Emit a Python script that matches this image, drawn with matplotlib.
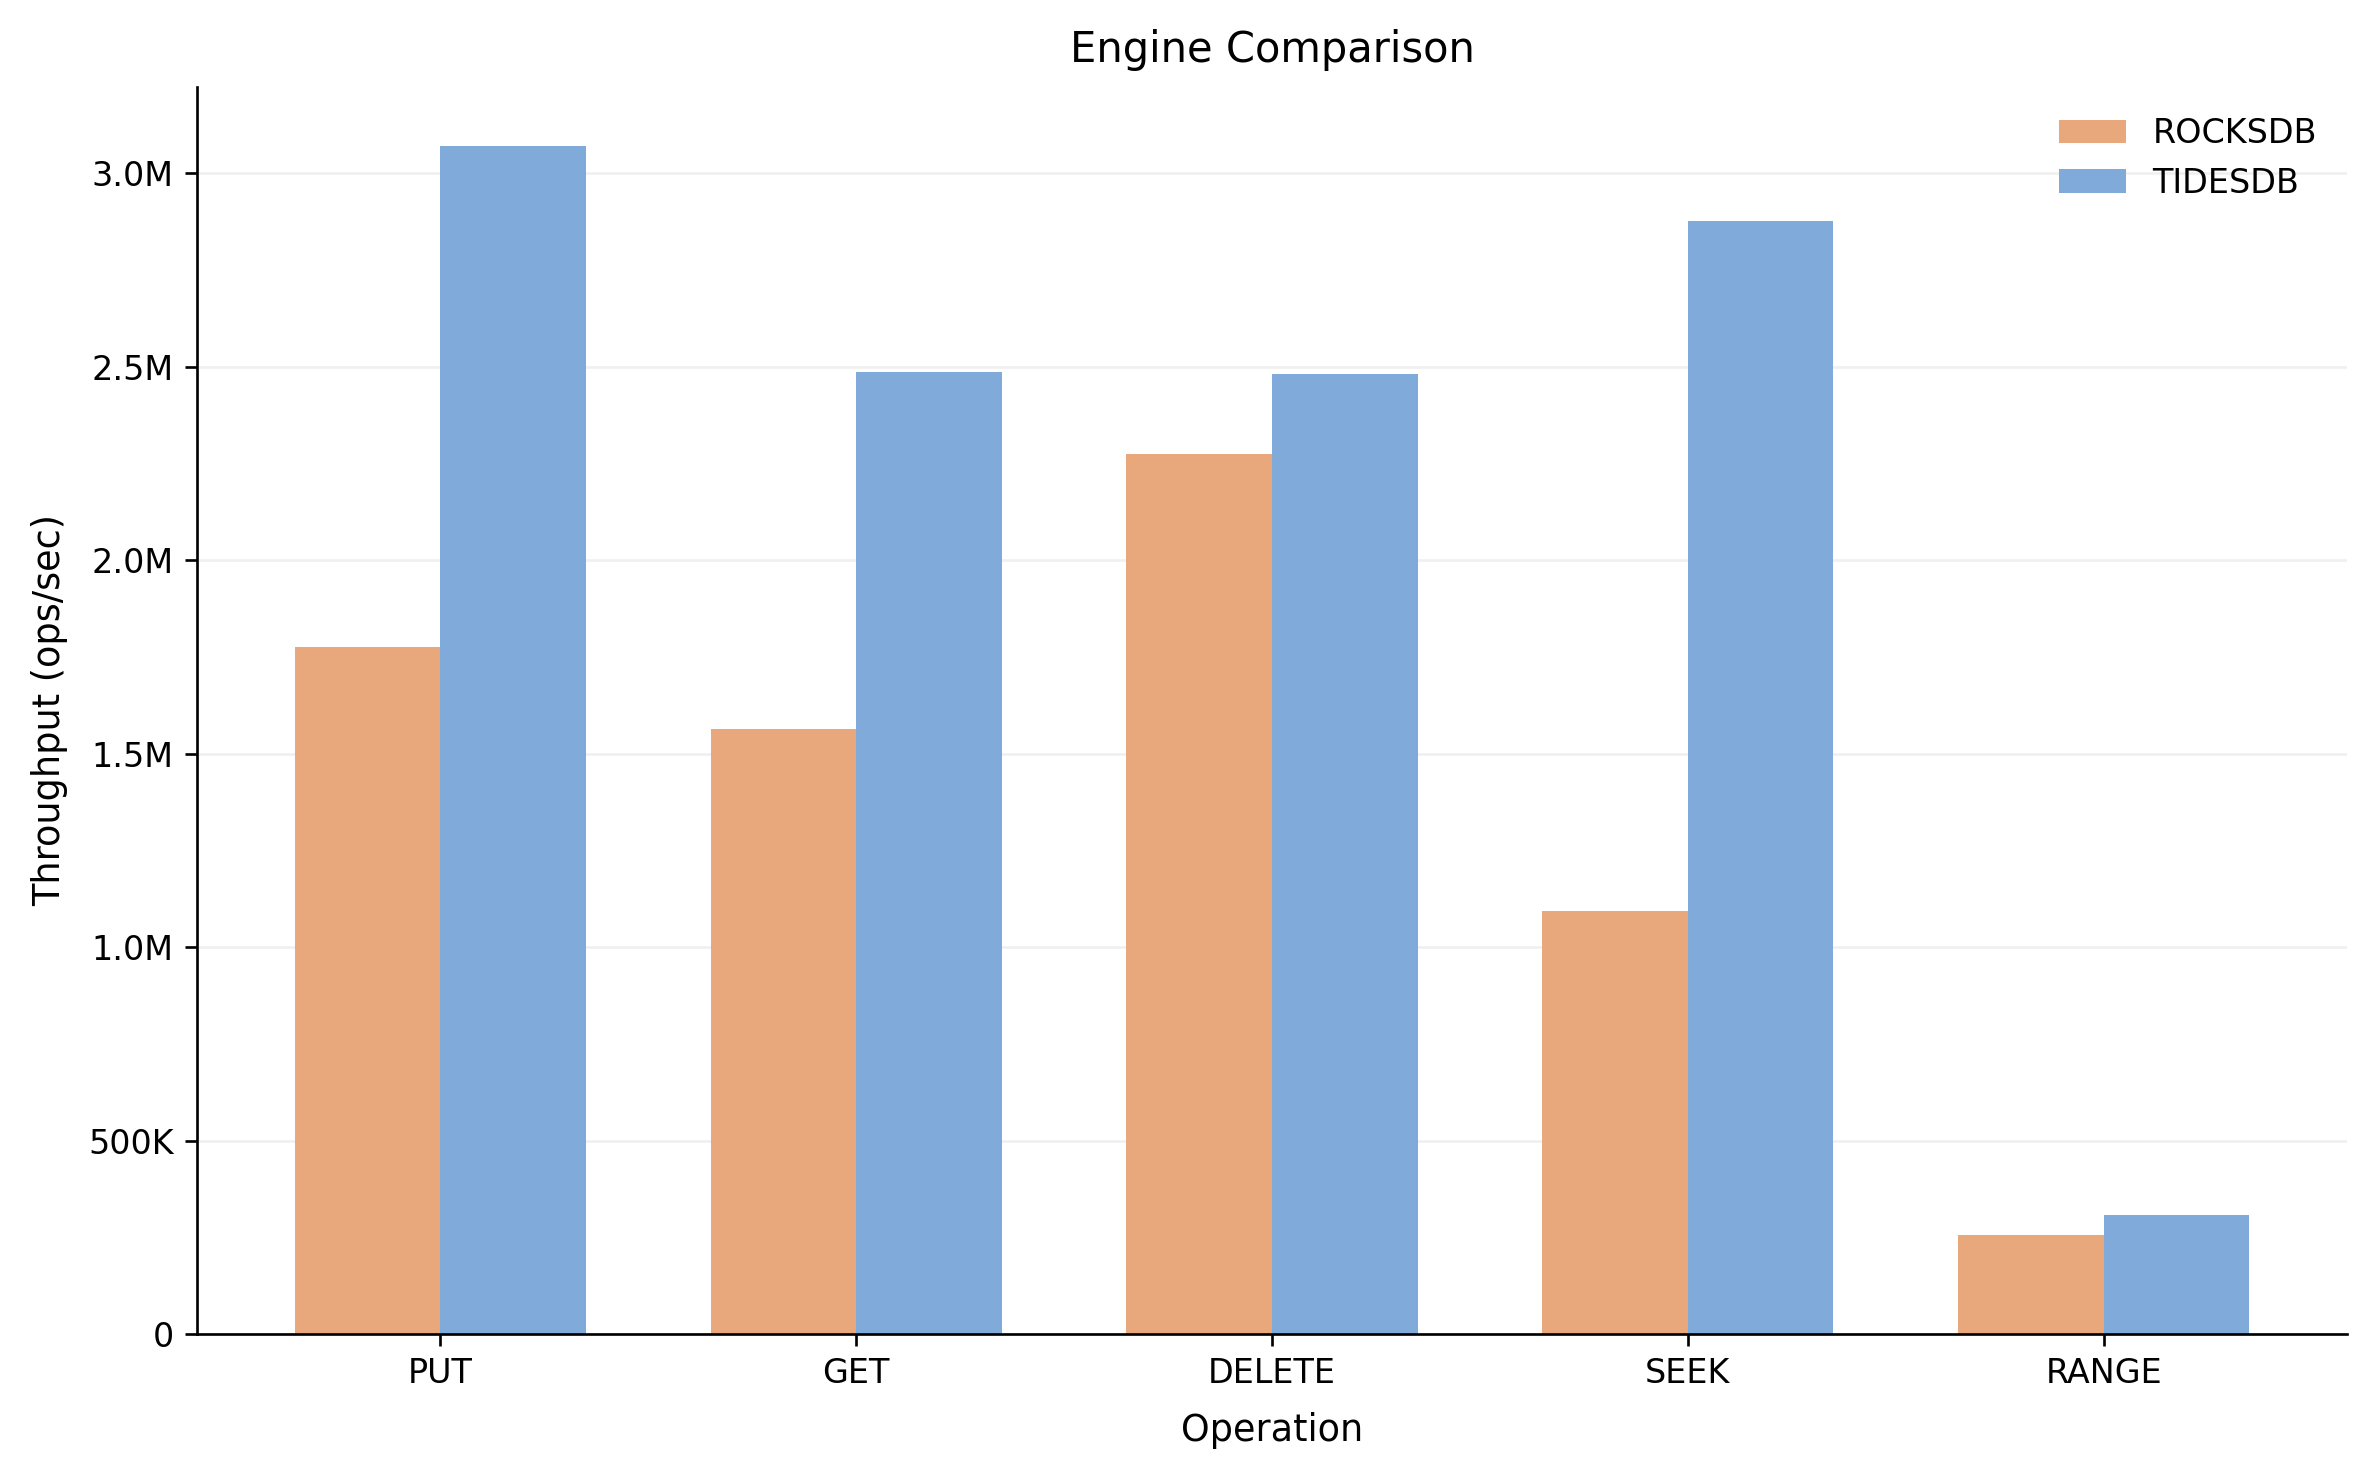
import matplotlib

matplotlib.use("Agg")
import matplotlib.pyplot as plt
import numpy as np
from matplotlib.ticker import FuncFormatter

operations = ["PUT", "GET", "DELETE", "SEEK", "RANGE"]
engines = ["ROCKSDB", "TIDESDB"]
rocksdb_ops = [1_775_000, 1_563_000, 2_274_000, 1_093_000, 255_000]
tidesdb_ops = [3_069_000, 2_487_000, 2_481_000, 2_875_000, 308_000]
colors = ["#E8A87C", "#7FAADA"]


def fmt_ops(value, pos):
    # 0 / 500K / 1.0M style labels
    if value == 0:
        return "0"
    if value >= 1_000_000:
        return f"{value / 1_000_000:.1f}M"
    return f"{value / 1_000:.0f}K"


W, H = 2377, 1479
fig = plt.figure(figsize=(W / 240, H / 240), dpi=240)
left, right, top, bottom = 197, 2347, 87, 1334
ax = fig.add_axes([left / W, 1 - bottom / H, (right - left) / W, (bottom - top) / H])

x = np.arange(len(operations))
width = 0.35
ax.bar(x - width / 2, rocksdb_ops, width, label=engines[0], color=colors[0])
ax.bar(x + width / 2, tidesdb_ops, width, label=engines[1], color=colors[1])

ax.set_xticks(x)
ax.set_xticklabels(operations)
ax.yaxis.set_major_formatter(FuncFormatter(fmt_ops))
ax.set_xlabel("Operation", fontsize=11, labelpad=6.5)
ax.set_ylabel("Throughput (ops/sec)", fontsize=11, labelpad=6)
ax.set_title("Engine Comparison", fontsize=12.5, pad=7.5)
ax.tick_params(labelsize=10)

ax.grid(True, axis="y", color="#f0f0f0", linewidth=0.8)
ax.set_axisbelow(True)
ax.spines["top"].set_visible(False)
ax.spines["right"].set_visible(False)
ax.legend(frameon=False, loc="upper right", fontsize=10)

fig.savefig("out.png", dpi=240)
